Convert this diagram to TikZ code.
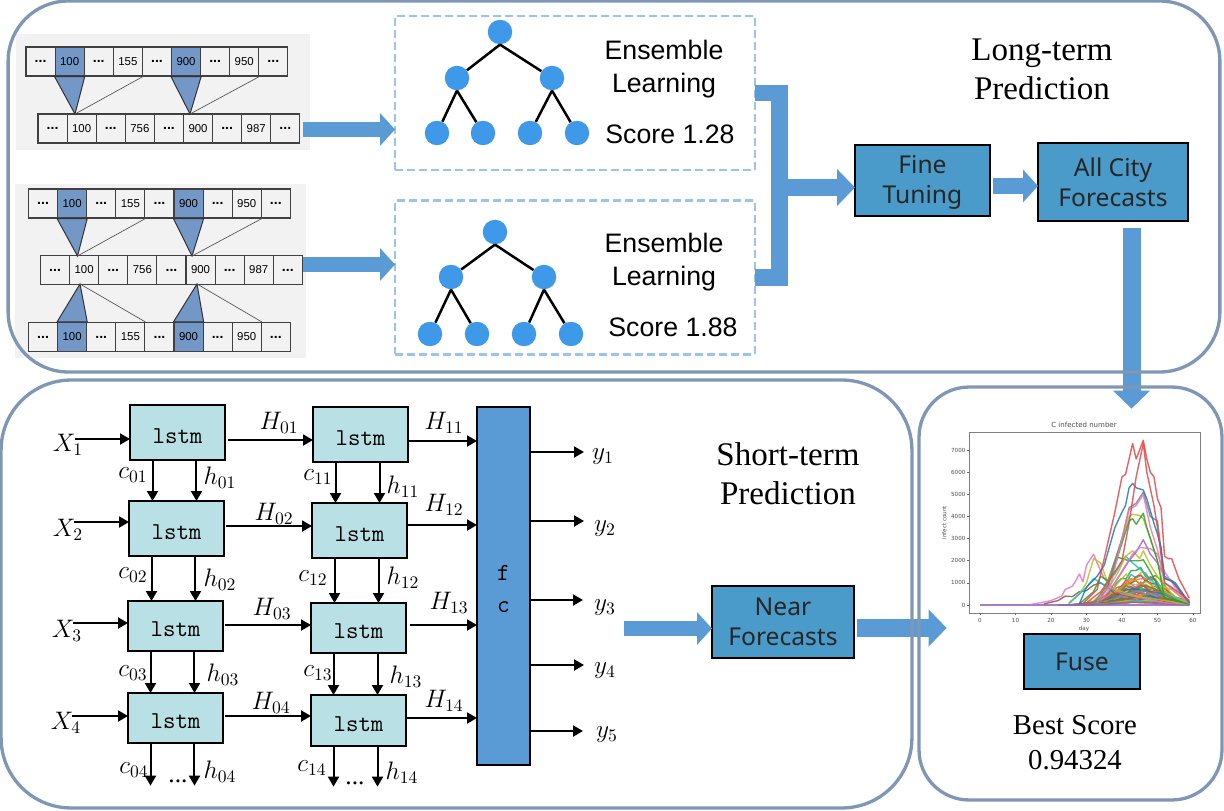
\documentclass[tikz,border=0pt]{standalone}
\usepackage{amsmath}
\usepackage{fontspec}
\setmainfont{Liberation Serif}
\setsansfont{Liberation Sans}
\newfontfamily\boxfont{Noto Sans}
\newfontfamily\chartfont{DejaVu Sans}
\usepackage{tikz}
\usetikzlibrary{arrows.meta, positioning}
\definecolor{framegray}{RGB}{127,150,181}
\definecolor{panelgray}{RGB}{242,242,242}
\definecolor{memblue}{RGB}{115,152,200}
\definecolor{dashblue}{RGB}{157,195,230}
\definecolor{treeblue}{RGB}{62,153,232}
\definecolor{arrowblue}{RGB}{91,155,213}
\definecolor{stageblue}{RGB}{74,154,202}
\definecolor{lstmcyan}{RGB}{185,224,228}
\definecolor{tabblue}{RGB}{31,119,180}
\definecolor{taborange}{RGB}{255,127,14}
\definecolor{tabgreen}{RGB}{44,160,44}
\definecolor{tabred}{RGB}{224,70,70}
\definecolor{tabpurple}{RGB}{148,103,189}
\definecolor{tabbrown}{RGB}{140,86,75}
\definecolor{tabpink}{RGB}{227,119,194}
\definecolor{tabgray}{RGB}{127,127,127}
\definecolor{tabolive}{RGB}{188,189,34}
\definecolor{tabcyan}{RGB}{23,190,207}
\newcommand{\memdots}{{\fontsize{8}{8}\selectfont\textbf{...}}}
% one row of nine memory cells
\newcommand{\memrow}[8]{%
  \foreach \txt/\col [count=\i] in {\memdots/panelgray,#4/#8,\memdots/panelgray,#5/panelgray,\memdots/panelgray,#6/#8,\memdots/panelgray,#7/panelgray,\memdots/panelgray}
    \node[memcell, fill=\col] (#1c\i) at ({#2+14.55+(\i-1)*29.1},#3) {\txt};
}
% one seven-node tree, #1 is the name prefix
\newcommand{\enstree}[8]{%
  \node[treenode] (#1r) at #2 {};
  \node[treenode] (#1a) at #3 {};
  \node[treenode] (#1b) at #4 {};
  \node[treenode] (#1p) at #5 {};
  \node[treenode] (#1q) at #6 {};
  \node[treenode] (#1s) at #7 {};
  \node[treenode] (#1t) at #8 {};
  \foreach \up/\down in {r/a,r/b,a/p,a/q,b/s,b/t}
    \draw[treeedge] (#1\up.south) -- (#1\down);
}
\newcommand{\chartcurve}[2]{\draw[chartline,#1] plot coordinates {#2};}

\begin{document}
\begin{tikzpicture}[
  x=0.02cm, y=-0.02cm,
  font=\sffamily,
  outerframe/.style={rectangle, draw=framegray, line width=0.066cm, inner sep=0pt, outer sep=0pt},
  memcell/.style={rectangle, draw=black!75, line width=0.022cm, minimum width=0.582cm, minimum height=0.58cm,
    inner sep=0pt, font=\fontsize{6.5}{7}\sffamily},
  panel/.style={rectangle, fill=panelgray, inner sep=0pt},
  wedge/.style={fill=memblue, draw=black!80, line width=0.02cm},
  memlink/.style={draw=black!65, line width=0.014cm},
  ensbox/.style={rectangle, draw=dashblue, line width=0.05cm, dash pattern=on 0.16cm off 0.08cm,
    minimum width=7.2cm, minimum height=3.08cm, inner sep=0pt, outer sep=0pt},
  treenode/.style={circle, fill=treeblue, minimum size=0.49cm, inner sep=0pt},
  treeedge/.style={line width=0.05cm, black},
  annot/.style={font=\fontsize{15.2}{18.7}\selectfont\sffamily, align=center},
  headline/.style={font=\fontsize{18.8}{22.4}\selectfont\rmfamily, align=center},
  stagebox/.style={rectangle, draw=black, line width=0.045cm, fill=stageblue, text=black!85, align=center,
    font=\fontsize{14}{17}\selectfont\boxfont, inner sep=0pt, outer sep=0pt},
  blockarrow/.style={draw=arrowblue, line width=0.36cm, -{Triangle[length=0.36cm,width=0.72cm]}},
  smallblock/.style={draw=arrowblue, line width=0.31cm, -{Triangle[length=0.3cm,width=0.64cm]}},
  lstmbox/.style={rectangle, draw=black, line width=0.04cm, fill=lstmcyan, minimum width=1.9cm,
    inner sep=0pt, outer sep=0pt, text height=12pt, text depth=0pt, font=\fontsize{13.8}{15}\selectfont\ttfamily},
  fcbox/.style={rectangle, draw=black, line width=0.04cm, fill=arrowblue, minimum width=1.06cm, minimum height=7.16cm,
    inner sep=0pt, outer sep=0pt, align=center, font=\fontsize{14}{18.7}\selectfont\ttfamily},
  arrow/.style={-{Triangle[length=0.2cm,width=0.22cm]}, line width=0.04cm, black},
  mlabel/.style={font=\fontsize{14.5}{16}\selectfont, inner sep=0pt},
  endpoint/.style={inner sep=0pt, minimum size=0pt},
  chartline/.style={line width=0.028cm, line join=round, opacity=0.85},
  charttext/.style={text=black!70, inner sep=0pt, font=\fontsize{3.2}{4}\selectfont\chartfont},
]
\useasboundingbox (0,0) rectangle (1224,811);

% === Memory panels ===
\node[panel, minimum width=5.88cm, minimum height=2.32cm] (panelA) at (163,92) {};
\node[panel, minimum width=5.82cm, minimum height=3.48cm] (panelB) at (160.5,271) {};

\memrow{ra}{26}{61.5}{100}{155}{900}{950}{memblue}
\memrow{rb}{38}{128.5}{100}{756}{900}{987}{panelgray}
\memrow{rc}{28.5}{203.5}{100}{155}{900}{950}{memblue}
\memrow{rd}{40.5}{270}{100}{756}{900}{987}{panelgray}
\memrow{re}{28.5}{337}{100}{155}{900}{950}{memblue}

\coordinate (tipa) at (75,114);
\coordinate (tipb) at (190,114);
\coordinate (tipc) at (77.5,256);
\coordinate (tipd) at (192,256);
\coordinate (tipe) at (80,284);
\coordinate (tipf) at (197,284);
\foreach \cell/\far/\tip in {rac2/rac4/tipa,rac6/rac8/tipb,rcc2/rcc4/tipc,rcc6/rcc8/tipd} {
  \filldraw[wedge] (\cell.south west) -- (\tip) -- (\cell.south east) -- cycle;
  \draw[memlink] (\far.south east) -- (\tip);
}
\foreach \cell/\far/\tip in {rec2/rec4/tipe,rec6/rec8/tipf} {
  \filldraw[wedge] (\cell.north west) -- (\tip) -- (\cell.north east) -- cycle;
  \draw[memlink] (\far.north east) -- (\tip);
}

% === Ensemble boxes ===
\node[ensbox] (ensA) at (575,93) {};
\node[ensbox] (ensB) at (575,277.5) {};
\enstree{ta}{(500,32)}{(457,78)}{(552,78)}{(437,133)}{(483,133)}{(530,133)}{(577,133)}
\enstree{tb}{(495,232)}{(451,277)}{(544,277)}{(430,334)}{(477,334)}{(524,334)}{(571,334)}
\node[annot] (learnA) at (664,69.5) {Ensemble\\Learning};
\node[annot] (scoreA) at (670,134) {Score 1.28};
\node[annot] (learnB) at (664,262.5) {Ensemble\\Learning};
\node[annot] (scoreB) at (673,327) {Score 1.88};
\node[headline] (longterm) at (1042,69.5) {Long-term\\Prediction};

% === Stage boxes ===
\node[stagebox, minimum width=2.7cm, minimum height=1.42cm] (fine) at (922.5,180.5) {\rule{0pt}{12.2pt}Fine\\Tuning};
\node[stagebox, minimum width=3cm, minimum height=1.56cm] (city) at (1113,182) {All City\\Forecasts};
\node[stagebox, minimum width=2.84cm, minimum height=1.44cm] (near) at (783,622) {Near\\Forecasts};
\node[stagebox, minimum width=2.32cm, minimum height=1.1cm] (fuse) at (1082,661.5) {Fuse};

% === LSTM grid ===
\node[lstmbox, minimum height=1.1cm] (a1) at (177.5,432.5) {lstm};
\node[lstmbox, minimum height=1.1cm] (a2) at (176.5,528.5) {lstm};
\node[lstmbox, minimum height=1cm] (a3) at (175.5,626) {lstm};
\node[lstmbox, minimum height=1cm] (a4) at (175.5,718) {lstm};
\node[lstmbox, minimum height=1.1cm] (b1) at (360.5,434.5) {lstm};
\node[lstmbox, minimum height=1.1cm] (b2) at (359.5,530.5) {lstm};
\node[lstmbox, minimum height=1cm] (b3) at (358.5,628) {lstm};
\node[lstmbox, minimum height=1.02cm] (b4) at (358.5,720.5) {lstm};
\node[fcbox] (fc) at (503.5,586) {\rule{0pt}{12pt}f\\c};
\node[endpoint] (a5) at (176,786) {};
\node[endpoint] (b5) at (360,787) {};

\foreach \top/\bottom in {a1/a2,a2/a3,a3/a4,a4/a5,b1/b2,b2/b3,b3/b4,b4/b5} {
  \draw[arrow] ([xshift=-0.5cm]\top.south) -- ([xshift=-0.5cm]\top.south |- \bottom.north);
  \draw[arrow] ([xshift=0.38cm]\top.south) -- ([xshift=0.38cm]\top.south |- \bottom.north);
}

\coordinate (ina1) at (75,439);
\coordinate (ina2) at (74,522);
\coordinate (ina3) at (73,623);
\coordinate (ina4) at (72,716);
\coordinate (hza1) at (228,440);
\coordinate (hza2) at (226,526);
\coordinate (hza3) at (225,625);
\coordinate (hza4) at (225,716);
\coordinate (hzb1) at (408,441);
\coordinate (hzb2) at (408,525);
\coordinate (hzb3) at (410,625);
\coordinate (hzb4) at (407,718);
\foreach \i in {1,2,3,4} {
  \draw[arrow] (ina\i) -- (ina\i -| a\i.west);
  \draw[arrow] (hza\i) -- (hza\i -| b\i.west);
  \draw[arrow] (hzb\i) -- (hzb\i -| fc.west);
}
\node[mlabel] (x1) at (68,445) {$X_1$};
\node[mlabel] (x2) at (68,530) {$X_2$};
\node[mlabel] (x3) at (67,631) {$X_3$};
\node[mlabel] (x4) at (66,723) {$X_4$};

% output tokens
\coordinate (out1) at (584,452);
\coordinate (out2) at (584,521);
\coordinate (out3) at (583,600);
\coordinate (out4) at (584,665);
\coordinate (out5) at (583,731);
\foreach \i in {1,...,5}
  \draw[arrow] (fc.east |- out\i) -- (out\i);
\node[mlabel] (y1) at (603,457) {$y_1$};
\node[mlabel] (y2) at (605,529) {$y_2$};
\node[mlabel] (y3) at (605,608) {$y_3$};
\node[mlabel] (y4) at (605,671) {$y_4$};
\node[mlabel] (y5) at (607,735) {$y_5$};

% state labels
\foreach \name/\px/\py/\tx in {
  c01/133/475/c_{01}, h01/220/478/h_{01}, c02/133/575/c_{02}, h02/220/580/h_{02},
  c03/133/673/c_{03}, h03/223/675/h_{03}, c04/134/770/c_{04}, h04/220/772/h_{04},
  c11/318/477/c_{11}, h11/403/487/h_{11}, c12/313/578/c_{12}, h12/403/578/h_{12},
  c13/318/673/c_{13}, h13/406/677/h_{13}, c14/312/768/c_{14}, h14/402/773/h_{14},
  H01/279/423/H_{01}, H02/274/514/H_{02}, H03/272/609/H_{03}, H04/271/703/H_{04},
  H11/444/423/H_{11}, H12/444/505/H_{12}, H13/449/603/H_{13}, H14/444/701/H_{14}}
  \node[mlabel] (l\name) at (\px,\py) {$\tx$};
\node[mlabel] (dotsa) at (178,781) {\rmfamily ...};
\node[mlabel] (dotsb) at (355,783) {\rmfamily ...};

\node[headline] (shortterm) at (788,474) {Short-term\\Prediction};
\node[headline, font=\fontsize{16.4}{20}\selectfont\rmfamily] (best) at (1075,742.5) {Best Score\\0.94324};

% === Chart ===
\begin{scope}[shift={(980,605)}, x=0.071cm, y=0.00044cm]
  \draw[black!50, line width=0.02cm] (-3.1,-364) rectangle (62,7818);
  \foreach \t in {0,10,...,60} {
    \draw[black!60, line width=0.012cm] (\t,-364) -- (\t,-450);
    \node[charttext] (xt\t) at (\t,-680) {\t};
  }
  \foreach \t in {0,1000,...,7000} {
    \draw[black!60, line width=0.012cm] (-3.1,\t) -- (-3.6,\t);
    \node[charttext, anchor=east] (yt\t) at (-4,\t) {\t};
  }
  \node[charttext, font=\fontsize{4}{5}\selectfont\chartfont] (ctitle) at (29.3,8136) {C infected number};
  \node[charttext] (cday) at (29.3,-1090) {day};
  \node[charttext, rotate=90] (cylab) at (-10.1,3727) {infect count};

  % bottom bundle of city curves
  \pgfmathsetseed{7}
  \foreach \peak/\colr in {1500/tabgreen,1400/tabolive,1300/tabcyan,1200/tabred,1100/taborange,1000/tabblue,950/tabpurple,
    900/tabbrown,850/tabpink,800/tabolive,750/taborange,700/tabcyan,650/tabgreen,600/tabred,550/tabblue,500/taborange,
    450/tabpurple,400/tabgreen,350/tabred,300/tabolive,250/tabblue,200/taborange,150/tabpurple,100/tabcyan,
    1050/tabolive,980/taborange,870/tabgreen,780/tabred,720/tabblue,630/taborange,580/tabpurple,520/tabcyan,
    480/tabred,420/taborange,380/tabblue,320/tabgreen,280/tabred,220/tabolive,180/tabcyan,120/tabred}
    \draw[chartline,\colr] plot[domain=22:59,samples=28] (\x,{\peak*exp(-((\x-45)^2)/80)*(0.8+0.4*rnd)});
  \draw[chartline,tabpurple] (0,0) -- (59,0);

  \chartcurve{tabbrown}{(18,50) (22,200) (24,400) (26,380) (28,600) (30,650) (32,900) (34,1000) (36,800) (38,500) (42,400) (48,300) (54,100) (59,30)}
  \chartcurve{tabpink}{(14,20) (17,100) (20,200) (23,400) (24,700) (26,850) (27,1100) (28,1400) (29,1050) (30,1800) (32,2300) (33,1900) (35,1200) (37,800) (40,500) (46,300) (52,100) (59,30)}
  \chartcurve{tabolive}{(25,100) (28,500) (30,1000) (32,2100) (34,1900) (36,1000) (38,700) (44,400) (52,200) (59,30)}
  \chartcurve{tabcyan}{(25,50) (30,800) (32,1200) (35,900) (38,1400) (41,2200) (43,1900) (46,1500) (49,1000) (52,500) (59,50)}
  \chartcurve{tabgreen}{(28,50) (32,600) (34,1300) (36,1100) (38,2000) (39,2150) (42,2000) (45,2000) (46,2050) (48,1500) (52,300) (59,40)}
  \chartcurve{tabolive}{(32,200) (36,700) (39,1500) (41,2200) (43,2450) (45,2100) (46,2450) (48,1800) (50,1300) (52,800) (54,700) (59,60)}
  \chartcurve{tabpurple}{(32,100) (36,500) (40,1500) (42,2000) (44,2400) (46,2950) (48,2300) (50,1900) (52,1300) (55,1000) (59,80)}
  \chartcurve{tabpink}{(34,200) (38,1000) (41,1800) (43,2300) (45,2600) (48,2550) (50,2300) (52,1500) (55,800) (59,70)}
  \chartcurve{tabolive}{(33,200) (36,1000) (38,2000) (40,3000) (42,4000) (43,4100) (45,4050) (46,3900) (48,3000) (50,2000) (52,600) (59,50)}
  \chartcurve{tabgreen}{(33,100) (36,800) (38,1800) (40,2800) (42,3800) (43,3900) (44,3650) (46,4150) (47,3500) (50,2000) (52,300) (54,250) (59,40)}
  \chartcurve{tabgray}{(32,100) (36,900) (38,2000) (40,3000) (42,4400) (44,4600) (46,5100) (48,4000) (50,3800) (52,1200) (55,1000) (59,80)}
  \chartcurve{tabpink}{(33,100) (37,1000) (40,3000) (42,4300) (44,4500) (46,5000) (48,3500) (50,2500) (52,1000) (59,60)}
  \chartcurve{tabblue}{(28,60) (30,800) (33,1300) (35,1800) (38,3500) (40,4200) (41,4500) (42,5300) (43,5500) (44,5300) (46,5200) (47,4800) (49,3700) (50,3200) (51,2600) (52,1200) (54,1100) (59,100)}
  \chartcurve{tabred}{(30,100) (34,600) (38,1500) (40,2000) (42,3700) (44,5800) (46,7300) (47,6000) (49,4500) (50,3500) (52,1000) (54,800) (59,200)}
  \chartcurve{tabred}{(29,60) (33,700) (36,2800) (38,4200) (40,5800) (41,5900) (43,7300) (44,6600) (46,7450) (47,6600) (48,6000) (49,5800) (50,4800) (51,4400) (52,2200) (53,2100) (54,2100) (56,1200) (59,300)}
\end{scope}

% === Block arrows ===
\coordinate (memoutA) at (303,129.5);
\coordinate (memoutB) at (303,264.5);
\coordinate (forkjoin) at (779.5,187.5);
\coordinate (fineout) at (993,186);
\coordinate (cityout) at (1131.5,228);
\node[endpoint] (chartin) at (1131.5,409) {};
\coordinate (lstmout) at (624,628.5);
\coordinate (nearout) at (857,628);
\node[endpoint] (fusein) at (947,628) {};
\draw[smallblock] (memoutA) -- (memoutA -| ensA.west);
\draw[smallblock] (memoutB) -- (memoutB -| ensB.west);
\draw[draw=arrowblue, line width=0.34cm] (ensA.east) -- ++(24.5,0) |- (ensB.east);
\draw[blockarrow] (forkjoin) -- (forkjoin -| fine.west);
\draw[smallblock] (fineout) -- (fineout -| city.west);
\draw[blockarrow] (cityout) -- (chartin);
\draw[smallblock] (lstmout) -- (lstmout -| near.west);
\draw[blockarrow] (nearout) -- (fusein);

% === Rounded frames ===
\node[outerframe, rounded corners=1.2cm, minimum width=24.24cm, minimum height=7.42cm] (longframe) at (614,186.5) {};
\node[outerframe, rounded corners=1.4cm, minimum width=18.22cm, minimum height=8.56cm] (shortframe) at (456.5,594) {};
\node[outerframe, rounded corners=1cm, minimum width=6.06cm, minimum height=8.26cm] (mergeframe) at (1070.5,593.5) {};

\end{tikzpicture}
\end{document}
